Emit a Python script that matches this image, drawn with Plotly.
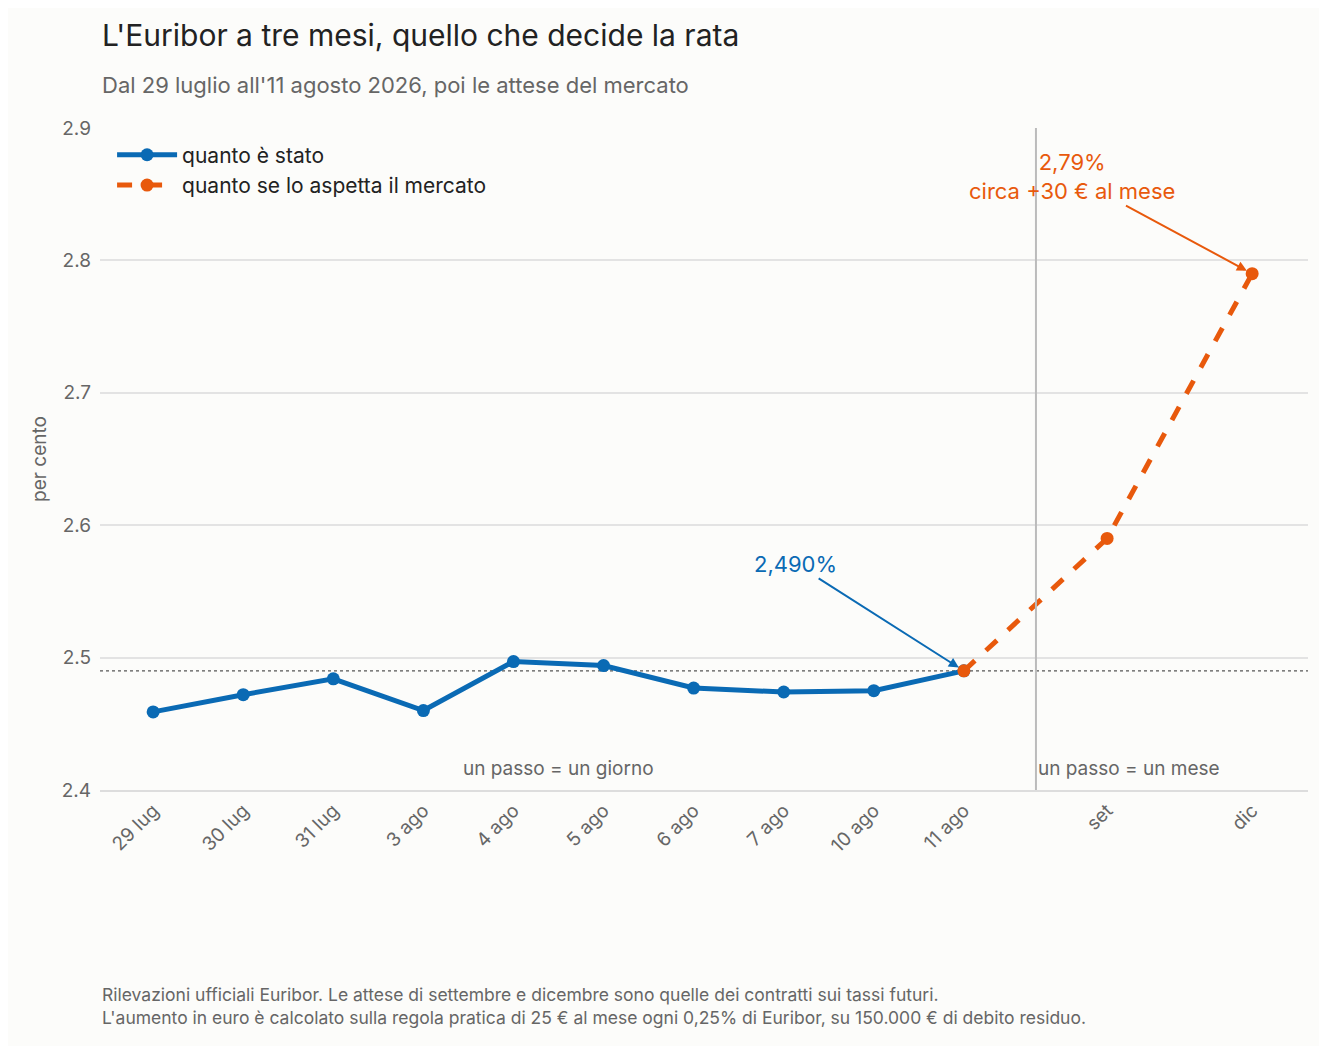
import plotly.graph_objects as go

# daily fixings
days = ["29 lug", "30 lug", "31 lug", "3 ago", "4 ago", "5 ago", "6 ago", "7 ago", "10 ago", "11 ago"]
euribor = [2.459, 2.472, 2.484, 2.460, 2.497, 2.494, 2.477, 2.474, 2.475, 2.490]

# market expectations (from the last fixing onward)
months = ["set", "dic"]
expected = [2.59, 2.79]

BLUE = "#0a6ab4"
ORANGE = "#e8590c"
GREY = "#666666"
FONT = "Inter, Liberation Sans, Arial, sans-serif"

# positions: one step per day, then the months are placed on a wider step
x_days = list(range(len(days)))
month_gap = 1.59
x_months = [x_days[-1] + month_gap, x_days[-1] + month_gap + 1.61]
x_split = x_days[-1] + 0.8

fig = go.Figure()
fig.add_trace(go.Scatter(
    x=x_days, y=euribor, name="quanto è stato", mode="lines+markers",
    line=dict(color=BLUE, width=5), marker=dict(size=13, color=BLUE)))
fig.add_trace(go.Scatter(
    x=[x_days[-1]] + x_months, y=[euribor[-1]] + expected,
    name="quanto se lo aspetta il mercato", mode="lines+markers",
    line=dict(color=ORANGE, width=5, dash="dash"), marker=dict(size=13, color=ORANGE)))

fig.add_hline(y=euribor[-1], line=dict(color="#555555", width=1.3, dash="dot"), layer="below")
fig.add_vline(x=x_split, line=dict(color="#bbbbbb", width=2))

fig.add_annotation(x=x_days[-1], y=euribor[-1], text="2,490%", showarrow=True,
                   ax=-168, ay=-107, arrowhead=2, arrowsize=1, arrowwidth=2, arrowcolor=BLUE,
                   font=dict(size=22, color=BLUE), standoff=6)
fig.add_annotation(x=x_months[-1], y=expected[-1], text="2,79%<br>circa +30 € al mese",
                   showarrow=True, ax=-180, ay=-97, arrowhead=2, arrowsize=1, arrowwidth=2,
                   arrowcolor=ORANGE, font=dict(size=22, color=ORANGE), standoff=6)
fig.add_annotation(x=4.5, y=2.4, yanchor="bottom", yshift=8, text="un passo = un giorno",
                   showarrow=False, font=dict(size=19, color=GREY))
fig.add_annotation(x=x_split, y=2.4, xanchor="left", yanchor="bottom", yshift=8,
                   text="un passo = un mese", showarrow=False, font=dict(size=19, color=GREY))

# title and subtitle
fig.add_annotation(xref="paper", yref="paper", x=0, y=1, xanchor="left", yanchor="middle", yshift=93,
                   showarrow=False, text="L'Euribor a tre mesi, quello che decide la rata",
                   font=dict(size=30, color="#222222"))
fig.add_annotation(xref="paper", yref="paper", x=0, y=1, xanchor="left", yanchor="middle", yshift=43,
                   showarrow=False, text="Dal 29 luglio all'11 agosto 2026, poi le attese del mercato",
                   font=dict(size=22, color=GREY))

fig.add_annotation(xref="paper", yref="paper", x=0, y=-0.29, xanchor="left", yanchor="top",
                   align="left", showarrow=False, font=dict(size=17.5, color=GREY),
                   text="Rilevazioni ufficiali Euribor. Le attese di settembre e dicembre sono quelle dei contratti sui tassi futuri.<br>"
                        "L'aumento in euro è calcolato sulla regola pratica di 25 € al mese ogni 0,25% di Euribor, su 150.000 € di debito residuo.")

fig.update_layout(
    width=1311, height=1038,
    margin=dict(l=92, r=11, t=120, b=256),
    paper_bgcolor="#fcfcfa", plot_bgcolor="#fcfcfa",
    font=dict(family=FONT, size=19, color=GREY),
    legend=dict(x=0.01, y=0.99, xanchor="left", yanchor="top", bgcolor="rgba(0,0,0,0)",
                font=dict(size=21, color="#222222"), itemwidth=60),
    showlegend=True,
)
fig.update_xaxes(range=[-0.59, 12.82], tickvals=x_days + x_months, ticktext=days + months,
                 tickangle=-45, showgrid=False, zeroline=False, showline=True,
                 linecolor="#dddddd", linewidth=2, tickfont=dict(size=19, color=GREY))
fig.update_yaxes(range=[2.4, 2.9], dtick=0.1, tickformat=".1f", gridcolor="#e3e3e3", gridwidth=1.5,
                 zeroline=False, title=dict(text="per cento", standoff=10, font=dict(size=19, color=GREY)),
                 tickfont=dict(size=19, color=GREY), ticklabelstandoff=8)

fig.write_html("out.html")
